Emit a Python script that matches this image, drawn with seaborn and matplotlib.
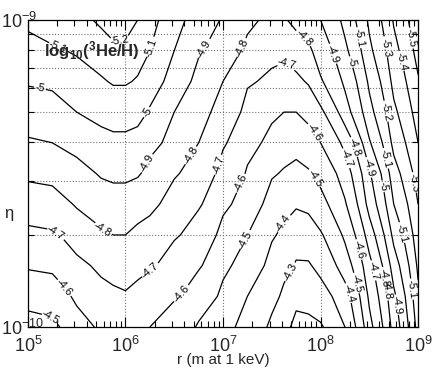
import numpy as np
import seaborn as sns
import matplotlib
matplotlib.use("Agg")
import matplotlib.pyplot as plt
from matplotlib.ticker import LogLocator, NullFormatter

# grid of the chart: log10 r (m at 1 keV) across, log10 eta up
log_r = [5.0, 5.25, 5.5, 5.75, 5.875, 6.0, 6.125, 6.25, 6.5, 6.75, 7.0,
         7.25, 7.5, 7.625, 7.75, 7.875, 8.0, 8.25, 8.5, 8.75, 9.0]
log_eta = [-10.0, -9.9, -9.8, -9.7, -9.6, -9.5, -9.4, -9.3, -9.2, -9.1, -9.0]

# log10(3He/H), one list per r column (eta low -> high)
he3_r5_000 = [-4.46, -4.54, -4.61, -4.68, -4.75, -4.82, -4.89, -4.95, -5.01, -5.07, -5.12]
he3_r5_250 = [-4.48, -4.55, -4.62, -4.69, -4.76, -4.83, -4.90, -4.96, -5.02, -5.09, -5.15]
he3_r5_500 = [-4.56, -4.62, -4.68, -4.74, -4.81, -4.87, -4.93, -5.00, -5.06, -5.11, -5.17]
he3_r5_750 = [-4.62, -4.67, -4.72, -4.79, -4.85, -4.91, -4.97, -5.03, -5.09, -5.15, -5.22]
he3_r5_875 = [-4.63, -4.68, -4.74, -4.80, -4.86, -4.92, -4.98, -5.04, -5.11, -5.18, -5.25]
he3_r6_000 = [-4.64, -4.69, -4.75, -4.80, -4.86, -4.92, -4.98, -5.04, -5.11, -5.18, -5.24]
he3_r6_125 = [-4.62, -4.67, -4.73, -4.78, -4.84, -4.91, -4.97, -5.03, -5.09, -5.15, -5.20]
he3_r6_250 = [-4.60, -4.65, -4.71, -4.77, -4.82, -4.87, -4.93, -4.99, -5.05, -5.10, -5.13]
he3_r6_500 = [-4.55, -4.61, -4.66, -4.71, -4.76, -4.81, -4.86, -4.90, -4.95, -5.00, -5.03]
he3_r6_750 = [-4.49, -4.55, -4.61, -4.66, -4.71, -4.75, -4.80, -4.83, -4.87, -4.91, -4.95]
he3_r7_000 = [-4.43, -4.48, -4.52, -4.57, -4.62, -4.67, -4.71, -4.76, -4.80, -4.84, -4.89]
he3_r7_250 = [-4.36, -4.40, -4.45, -4.50, -4.55, -4.59, -4.63, -4.67, -4.71, -4.78, -4.82]
he3_r7_500 = [-4.28, -4.33, -4.37, -4.41, -4.46, -4.51, -4.57, -4.62, -4.68, -4.73, -4.77]
he3_r7_625 = [-4.23, -4.28, -4.33, -4.38, -4.43, -4.49, -4.55, -4.60, -4.67, -4.72, -4.79]
he3_r7_750 = [-4.17, -4.23, -4.29, -4.35, -4.41, -4.47, -4.54, -4.60, -4.68, -4.75, -4.83]
he3_r7_875 = [-4.18, -4.23, -4.29, -4.36, -4.42, -4.49, -4.56, -4.63, -4.71, -4.78, -4.86]
he3_r8_000 = [-4.19, -4.26, -4.33, -4.39, -4.47, -4.53, -4.60, -4.68, -4.79, -4.85, -4.90]
he3_r8_250 = [-4.30, -4.36, -4.45, -4.52, -4.59, -4.65, -4.73, -4.86, -4.92, -4.98, -5.03]
he3_r8_500 = [-4.57, -4.62, -4.67, -4.75, -4.84, -4.89, -4.99, -5.07, -5.12, -5.18, -5.22]
he3_r8_750 = [-4.84, -4.88, -4.95, -5.03, -5.10, -5.16, -5.23, -5.28, -5.33, -5.37, -5.41]
he3_r9_000 = [-5.14, -5.18, -5.22, -5.26, -5.30, -5.35, -5.40, -5.45, -5.49, -5.54, -5.58]

contour_levels = [-5.5, -5.4, -5.3, -5.2, -5.1, -5.0, -4.9, -4.8,
                  -4.7, -4.6, -4.5, -4.4, -4.3, -4.2]

# where the contour labels sit (log10 r, log10 eta)
label_spots = [
    (5.33, -9.070),
    (5.94, -9.065), (6.27, -9.091), (5.12, -9.221), (6.23, -9.303),
    (6.79, -9.091), (6.25, -9.472), (5.76, -9.684), (6.66, -9.440),
    (7.19, -9.091), (5.28, -9.694), (6.25, -9.814), (6.95, -9.472),
    (7.62, -9.153), (5.38, -9.870), (6.56, -9.889), (7.17, -9.531),
    (7.94, -9.365), (5.23, -9.971), (7.23, -9.717), (7.94, -9.515),
    (7.61, -9.661), (7.71, -9.824), (7.84, -9.055), (8.17, -9.107),
    (8.32, -9.137), (8.38, -9.059), (8.64, -9.091), (8.79, -9.137),
    (8.94, -9.059), (8.66, -9.300), (8.38, -9.749), (8.32, -9.417),
    (8.27, -9.450), (8.49, -9.482), (8.68, -9.450), (8.61, -9.544),
    (8.94, -9.531), (8.87, -9.691), (8.59, -9.814), (8.63, -9.840),
    (8.71, -9.879), (8.78, -9.928), (8.90, -9.879), (8.37, -9.857),
    (8.33, -9.886),
]

sns.set_theme(style="ticks")
plt.rcParams['font.family'] = ['Liberation Sans', 'DejaVu Sans']
plt.rcParams['mathtext.fontset'] = 'custom'
plt.rcParams['mathtext.rm'] = 'Liberation Sans'
plt.rcParams['mathtext.bf'] = 'Liberation Sans:bold'
plt.rcParams['axes.unicode_minus'] = False

columns = [he3_r5_000, he3_r5_250, he3_r5_500, he3_r5_750, he3_r5_875,
           he3_r6_000, he3_r6_125, he3_r6_250, he3_r6_500, he3_r6_750,
           he3_r7_000, he3_r7_250, he3_r7_500, he3_r7_625, he3_r7_750,
           he3_r7_875, he3_r8_000, he3_r8_250, he3_r8_500, he3_r8_750,
           he3_r9_000]
Z = np.column_stack(columns)
R, ETA = np.meshgrid(10.0 ** np.array(log_r), 10.0 ** np.array(log_eta))

fig = plt.figure(figsize=(4.36, 3.70), dpi=100)
ax = fig.add_axes([0.064, 0.116, 0.895, 0.83])

cs = ax.contour(R, ETA, Z, levels=contour_levels, colors='black',
                linewidths=0.9, linestyles='solid')

ax.set_xscale('log')
ax.set_yscale('log')
ax.set_xlim(1e5, 1e9)
ax.set_ylim(1e-10, 1e-9)

spots = [(10.0 ** u, 10.0 ** v) for u, v in label_spots]
ax.clabel(cs, fmt=lambda v: f'{v:g}', fontsize=8, inline=True,
          inline_spacing=1, manual=spots)

ax.xaxis.set_minor_locator(LogLocator(base=10, subs=np.arange(2, 10)))
ax.yaxis.set_minor_locator(LogLocator(base=10, subs=np.arange(2, 10)))
ax.yaxis.set_minor_formatter(NullFormatter())
ax.xaxis.set_minor_formatter(NullFormatter())
ax.set_yticks([1e-10, 1e-9])

ax.grid(which='major', axis='x', linestyle=':', color='0.45', linewidth=0.8)
ax.grid(which='minor', axis='y', linestyle=':', color='0.45', linewidth=0.8)

ax.tick_params(which='both', direction='in', top=True, right=True,
               labelsize=13, color='black', width=0.8)
ax.tick_params(which='major', length=7)
ax.tick_params(axis='x', which='major', pad=6)
ax.tick_params(axis='y', which='major', pad=19.5)
ax.tick_params(which='minor', length=4)
plt.setp(ax.get_yticklabels(), ha='left')
for side in ax.spines.values():
    side.set_color('black')
    side.set_linewidth(0.9)

ax.set_xlabel('r (m at 1 keV)', fontsize=11)
ax.xaxis.set_label_coords(0.5, -0.083)
ax.set_ylabel('η', fontsize=12, rotation=0, va='center')
ax.yaxis.set_label_coords(-0.05, 0.37)

ax.text(0.04, 0.9, r'$\mathbf{log_{10}(^{3}He/H)}$', transform=ax.transAxes,
        fontsize=12, va='center', ha='left', zorder=5)

fig.savefig('out.png', dpi=100)
